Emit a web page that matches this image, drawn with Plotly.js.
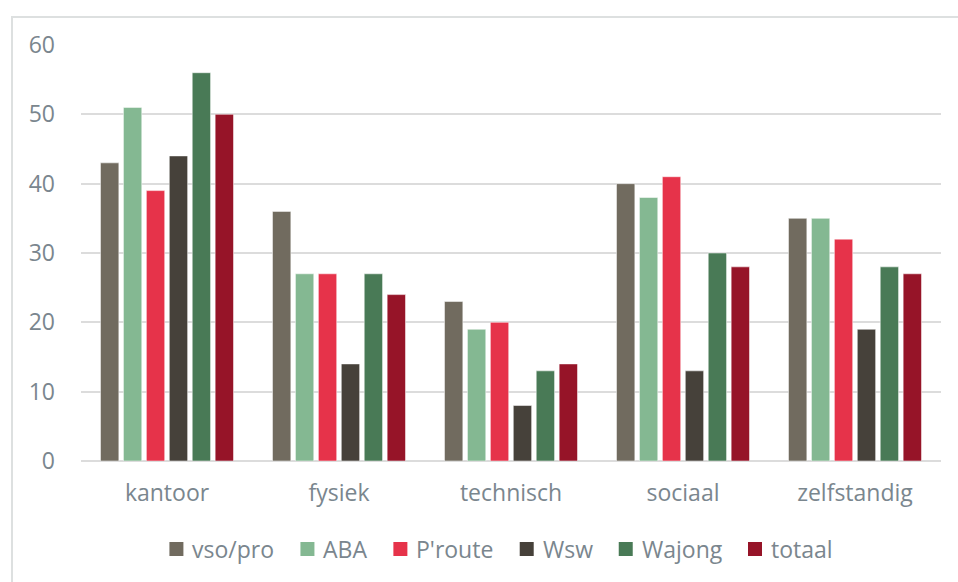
<!DOCTYPE html>
<html>
<head>
<meta charset="utf-8">
<script src="https://cdn.plot.ly/plotly-3.0.1.min.js"></script>
<style>
html,body{margin:0;padding:0;background:#fff;}
#wrap{position:relative;width:958px;height:582px;overflow:hidden;}
#frame{position:absolute;left:11px;top:16px;width:960px;height:580px;border-left:2px solid #dde0e0;border-top:2px solid #dde0e0;pointer-events:none;}
#chart{position:absolute;left:0;top:0;width:958px;height:582px;}
</style>
</head>
<body>
<div id="wrap"><div id="chart"></div><div id="frame"></div></div>
<script>
const categories = ["kantoor", "fysiek", "technisch", "sociaal", "zelfstandig"];
const seriesNames = ["vso/pro", "ABA", "P'route", "Wsw", "Wajong", "totaal"];
const vsoPro   = [43, 36, 23, 40, 35];
const aba      = [51, 27, 19, 38, 35];
const proute   = [39, 27, 20, 41, 32];
const wsw      = [44, 14, 8, 13, 19];
const wajong   = [56, 27, 13, 30, 28];
const totaal   = [50, 24, 14, 28, 27];
const yTicks   = [0, 10, 20, 30, 40, 50, 60];

const seriesValues = [vsoPro, aba, proute, wsw, wajong, totaal];
const colors = ["#716b5f", "#84b892", "#e6334a", "#46413a", "#497a56", "#961428"];

const FONT = "'Open Sans', Lato, sans-serif";
const TXT = "#7a868e";
const W = 958, H = 582;
const M = {l: 81, r: 17, t: 45, b: 121};
const plotW = W - M.l - M.r, plotH = H - M.t - M.b;

const data = seriesNames.map((n, i) => ({
  type: "bar",
  name: n,
  x: categories,
  y: seriesValues[i],
  marker: {color: colors[i], line: {color: "rgba(255,255,255,0.5)", width: 1}},
  showlegend: false
}));

// custom legend (layout only): square + label, measured text widths
const legendFontSize = 23;
const cv = document.createElement("canvas").getContext("2d");
cv.font = legendFontSize + "px " + FONT;
const sq = 14, sqGap = 7, itemGap = 28;
const widths = seriesNames.map(n => cv.measureText(n).width);
const total = widths.reduce((a, w) => a + sq + sqGap + w, 0) + itemGap * (seriesNames.length - 1);
let cx = 500 - total / 2;
const legendY = 549;
const shapes = [], annotations = [];
const px2x = p => (p - M.l) / plotW;
const py2y = p => (H - M.b - p) / plotH;
seriesNames.forEach((n, i) => {
  shapes.push({type: "rect", xref: "paper", yref: "paper",
    x0: px2x(cx), x1: px2x(cx + sq), y0: py2y(legendY + sq / 2), y1: py2y(legendY - sq / 2),
    fillcolor: colors[i], line: {width: 0}});
  annotations.push({xref: "paper", yref: "paper", x: px2x(cx + sq + sqGap), y: py2y(legendY),
    xanchor: "left", yanchor: "middle", showarrow: false, text: n,
    font: {family: FONT, size: legendFontSize, color: TXT}});
  cx += sq + sqGap + widths[i] + itemGap;
});

const layout = {
  width: W, height: H,
  margin: M,
  paper_bgcolor: "#ffffff",
  plot_bgcolor: "#ffffff",
  barmode: "group",
  bargap: 0.2,
  bargroupgap: 0.2,
  font: {family: FONT, color: TXT, size: 23},
  showlegend: false,
  shapes: shapes,
  annotations: annotations,
  xaxis: {
    type: "category",
    tickfont: {family: FONT, color: TXT, size: 23},
    showgrid: false, zeroline: false,
    showline: false, ticks: "", ticklabelstandoff: 16
  },
  yaxis: {
    range: [0, 60],
    tickvals: yTicks,
    ticktext: yTicks.map(String),
    tickfont: {family: FONT, color: TXT, size: 23},
    showgrid: true, gridcolor: "#dcdcdc", gridwidth: 2,
    zeroline: true, zerolinecolor: "#dcdcdc", zerolinewidth: 2,
    ticks: "", ticklabelstandoff: 25, showline: false
  }
};

Plotly.newPlot("chart", data, layout, {displayModeBar: false, staticPlot: true});
</script>
</body>
</html>
